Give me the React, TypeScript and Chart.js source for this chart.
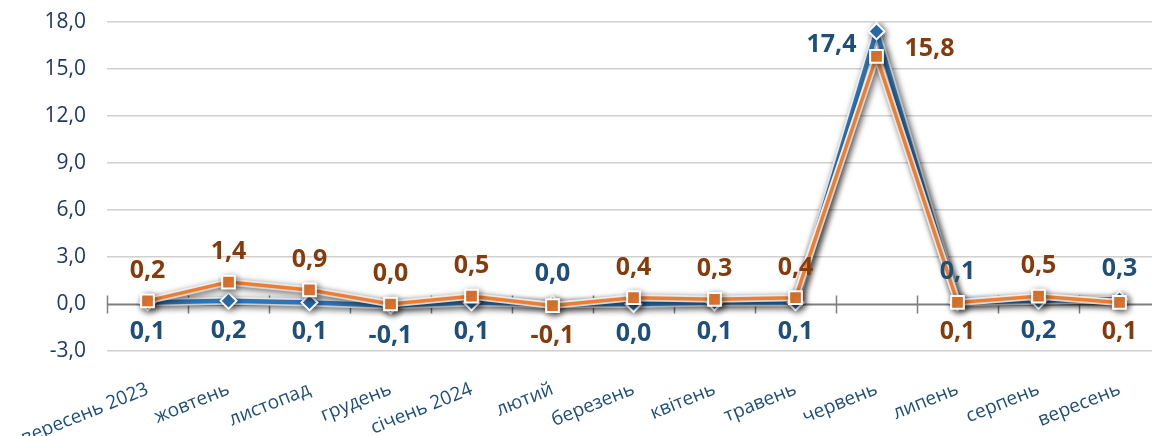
import React, { useEffect, useRef } from 'react';
import { Chart, registerables } from 'chart.js';

Chart.register(...registerables);

const categories = [
  'вересень 2023', 'жовтень', 'листопад', 'грудень', 'січень 2024', 'лютий',
  'березень', 'квітень', 'травень', 'червень', 'липень', 'серпень', 'вересень',
];
const blueValues = [0.1, 0.2, 0.1, -0.1, 0.1, 0.0, 0.0, 0.1, 0.1, 17.4, 0.1, 0.2, 0.3];
const orangeValues = [0.2, 1.4, 0.9, 0.0, 0.5, -0.1, 0.4, 0.3, 0.4, 15.8, 0.1, 0.5, 0.1];
const yTicks = [-3, 0, 3, 6, 9, 12, 15, 18];

const blueLabelPlacement = ['below', 'below', 'below', 'below', 'below', 'above', 'below', 'below', 'below', 'left', 'above', 'below', 'above'];
const orangeLabelPlacement = ['above', 'above', 'above', 'above', 'above', 'below', 'above', 'above', 'above', 'right', 'below', 'above', 'below'];

const BLUE = '#2E75B6';
const ORANGE = '#ED7D31';
const BLUE_TEXT = '#1F4E79';
const ORANGE_TEXT = '#843C0C';

const fmt = (v: number) => v.toFixed(1).replace('.', ',');

const zeroAxisPlugin = {
  id: 'zeroAxis',
  beforeDatasetsDraw(chart: any) {
    const { ctx, chartArea, scales } = chart;
    const x = scales.x;
    const y = scales.y;
    const y0 = Math.round(y.getPixelForValue(0)) + 0.5;
    ctx.save();
    ctx.strokeStyle = '#7F7F7F';
    ctx.lineWidth = 2;
    ctx.beginPath();
    ctx.moveTo(chartArea.left, y0);
    ctx.lineTo(chartArea.right, y0);
    ctx.stroke();
    const p0 = x.getPixelForValue(0);
    const step = x.getPixelForValue(1) - p0;
    ctx.lineWidth = 1.5;
    for (let i = 0; i <= categories.length; i++) {
      const px = Math.round(p0 - step / 2 + i * step) + 0.5;
      ctx.beginPath();
      ctx.moveTo(px, y0 - 9);
      ctx.lineTo(px, y0 + 9);
      ctx.stroke();
    }
    ctx.restore();
  },
};

const shadowPlugin = {
  id: 'shadow',
  beforeDatasetDraw(chart: any) {
    const ctx = chart.ctx;
    ctx.save();
    ctx.shadowColor = 'rgba(0,0,0,0.45)';
    ctx.shadowBlur = 7;
    ctx.shadowOffsetX = 2;
    ctx.shadowOffsetY = 2;
  },
  afterDatasetDraw(chart: any) {
    chart.ctx.restore();
  },
};

const labelPlugin = {
  id: 'valueLabels',
  afterDatasetsDraw(chart: any) {
    const { ctx } = chart;
    ctx.save();
    ctx.font = 'bold 25px "Open Sans"';
    ctx.textBaseline = 'alphabetic';
    chart.data.datasets.forEach((ds: any, di: number) => {
      if (!ds.valueLabels) return;
      const meta = chart.getDatasetMeta(di);
      const placement: string[] = ds.labelPlacement;
      ctx.fillStyle = ds.labelColor;
      meta.data.forEach((pt: any, i: number) => {
        const text = fmt(ds.data[i]);
        const pos = placement[i];
        let tx = pt.x;
        let cy = pt.y;
        ctx.textAlign = 'center';
        if (pos === 'above') cy = pt.y - 32;
        else if (pos === 'below') cy = pt.y + 28;
        else if (pos === 'left') { ctx.textAlign = 'right'; tx = pt.x - 20; cy = pt.y + 12; }
        else if (pos === 'right') { ctx.textAlign = 'left'; tx = pt.x + 28; cy = pt.y - 9; }
        ctx.fillText(text, tx, cy + 9);
      });
    });
    ctx.restore();
  },
};

export default function App() {
  const canvasRef = useRef<HTMLCanvasElement | null>(null);

  useEffect(() => {
    const canvas = canvasRef.current;
    if (!canvas) return;
    const chart = new Chart(canvas, {
      type: 'line',
      data: {
        labels: categories,
        datasets: [
          {
            label: 'orange',
            data: orangeValues,
            borderColor: ORANGE,
            borderWidth: 3.5,
            pointStyle: 'rect',
            pointRadius: 9,
            pointBackgroundColor: ORANGE,
            pointBorderColor: '#FFFFFF',
            pointBorderWidth: 2,
            tension: 0,
            order: 1,
            valueLabels: true,
            labelPlacement: orangeLabelPlacement,
            labelColor: ORANGE_TEXT,
          } as any,
          {
            label: 'orange-outline',
            data: orangeValues,
            borderColor: '#FFFFFF',
            borderWidth: 7,
            pointRadius: 0,
            tension: 0,
            order: 2,
          } as any,
          {
            label: 'blue',
            data: blueValues,
            borderColor: BLUE,
            borderWidth: 4.5,
            pointStyle: 'rectRot',
            pointRadius: 8,
            pointBackgroundColor: BLUE,
            pointBorderColor: '#FFFFFF',
            pointBorderWidth: 2,
            tension: 0,
            order: 3,
            valueLabels: true,
            labelPlacement: blueLabelPlacement,
            labelColor: BLUE_TEXT,
          } as any,
          {
            label: 'blue-outline',
            data: blueValues,
            borderColor: '#FFFFFF',
            borderWidth: 8,
            pointRadius: 0,
            tension: 0,
            order: 4,
          } as any,
        ],
      },
      options: {
        responsive: false,
        devicePixelRatio: 1,
        animation: false,
        layout: { autoPadding: false, padding: { top: 22, left: 0, right: 0, bottom: 0 } },
        plugins: {
          legend: { display: false },
          tooltip: { enabled: false },
          title: { display: false },
        },
        scales: {
          x: {
            type: 'category',
            offset: true,
            grid: { display: false, drawTicks: false },
            border: { display: false },
            ticks: {
              autoSkip: false,
              minRotation: 22,
              maxRotation: 22,
              padding: 27,
              color: BLUE_TEXT,
              font: { family: '"Open Sans"', size: 19 },
            },
            afterFit(scale: any) {
              scale.height = 85;
              scale.paddingLeft = 0;
              scale.paddingRight = 0;
            },
          },
          y: {
            min: -3,
            max: 18,
            grid: {
              drawTicks: false,
              color: (c: any) => (c.tick && c.tick.value === 0 ? 'rgba(0,0,0,0)' : '#D0D0D0'),
              lineWidth: 1.5,
            },
            border: { display: false },
            afterBuildTicks(scale: any) {
              scale.ticks = yTicks.map((v) => ({ value: v }));
            },
            ticks: {
              padding: 21,
              color: '#1F3864',
              font: { family: '"Open Sans"', size: 21 },
              callback: (v: any) => fmt(Number(v)),
            },
            afterFit(scale: any) {
              scale.width = 107;
              scale.paddingTop = 0;
              scale.paddingBottom = 0;
            },
          },
        },
      } as any,
      plugins: [zeroAxisPlugin, shadowPlugin, labelPlugin],
    });
    return () => chart.destroy();
  }, []);

  return (
    <div
      style={{
        position: 'fixed',
        left: 0,
        top: 0,
        width: 1152,
        height: 436,
        overflow: 'hidden',
        background: '#FFFFFF',
      }}
    >
      <canvas ref={canvasRef} width={1160} height={436} style={{ display: 'block', width: 1160, height: 436 }} />
    </div>
  );
}
